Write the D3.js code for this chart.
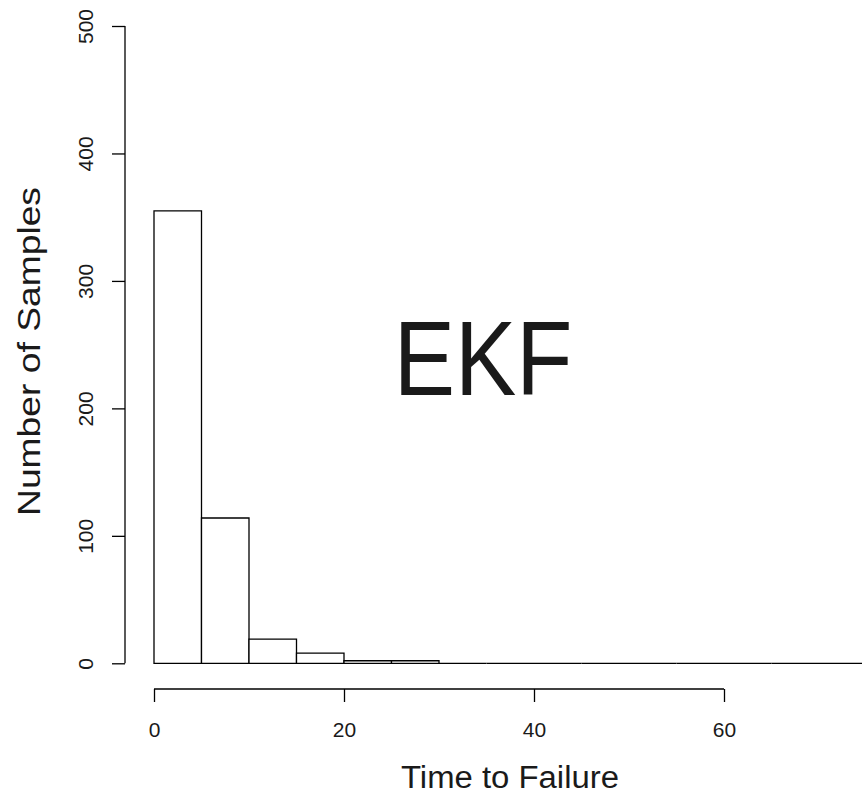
<!DOCTYPE html>
<html>
<head>
<meta charset="utf-8">
<script src="https://cdn.jsdelivr.net/npm/d3@7/dist/d3.min.js"></script>
<style>
  html, body { margin: 0; padding: 0; background: #fff; }
  svg { display: block; }
  text { font-family: "Liberation Sans", Arial, Helvetica, sans-serif; fill: #1a1a1a; }
</style>
</head>
<body>
<svg id="chart" width="862" height="798"></svg>
<script>
// Histogram of time to failure (bin width 5)
const binEdges = [0, 5, 10, 15, 20, 25, 30, 35, 40, 45, 50, 55, 60, 65, 70, 75, 80];
const binCounts = [355, 114, 19, 8, 2, 2, 0, 0, 0, 0, 0, 0, 0, 0, 0, 0];
const xTicks = [0, 20, 40, 60];
const yTicks = [0, 100, 200, 300, 400, 500];
const xTitle = "Time to Failure";
const yTitle = "Number of Samples";
const panelLabel = "EKF";

const svg = d3.select("#chart");

const x = d3.scaleLinear().domain([0, 60]).range([154, 724]);
const y = d3.scaleLinear().domain([0, 500]).range([663.3, 26]);

const bins = binCounts.map((c, i) => ({ x0: binEdges[i], x1: binEdges[i + 1], count: c }));

// bars drawn as closed outlines so empty bins still show along the baseline
svg.append("g")
  .selectAll("path")
  .data(bins)
  .join("path")
  .attr("d", d => `M${x(d.x0)},${y(0)}V${y(d.count)}H${x(d.x1)}V${y(0)}Z`)
  .attr("fill", "#fff")
  .attr("stroke", "#000")
  .attr("stroke-width", 1.3);

// y axis
const yAxis = svg.append("g")
  .attr("transform", "translate(125,0)")
  .call(d3.axisLeft(y).tickValues(yTicks).tickSize(13).tickSizeOuter(0).tickPadding(0));
yAxis.select(".domain").attr("stroke", "#000").attr("stroke-width", 1.3)
  .attr("d", `M0,${y(500)}V${y(0)}`);
yAxis.selectAll(".tick line").attr("stroke", "#000").attr("stroke-width", 1.3);
yAxis.selectAll(".tick text")
  .attr("x", null).attr("dy", null)
  .attr("transform", "translate(-32,0) rotate(-90)")
  .attr("text-anchor", "middle")
  .attr("font-family", "Liberation Sans, Arial, sans-serif")
  .attr("font-size", 21)
  .attr("fill", "#1a1a1a");

// x axis
const xAxis = svg.append("g")
  .attr("transform", "translate(0,689)")
  .call(d3.axisBottom(x).tickValues(xTicks).tickSize(13).tickSizeOuter(0).tickPadding(0));
xAxis.select(".domain").attr("stroke", "#000").attr("stroke-width", 1.3)
  .attr("d", `M${x(0)},0H${x(60)}`);
xAxis.selectAll(".tick line").attr("stroke", "#000").attr("stroke-width", 1.3);
xAxis.selectAll(".tick text")
  .attr("y", 48).attr("dy", null)
  .attr("text-anchor", "middle")
  .attr("font-family", "Liberation Sans, Arial, sans-serif")
  .attr("font-size", 21)
  .attr("fill", "#1a1a1a");

// axis titles
svg.append("text")
  .attr("x", 510).attr("y", 788)
  .attr("text-anchor", "middle")
  .attr("font-size", 31)
  .attr("textLength", 218)
  .attr("lengthAdjust", "spacingAndGlyphs")
  .text(xTitle);

svg.append("text")
  .attr("transform", "translate(40,351.5) rotate(-90)")
  .attr("text-anchor", "middle")
  .attr("font-size", 31)
  .attr("textLength", 329)
  .attr("lengthAdjust", "spacingAndGlyphs")
  .text(yTitle);

// panel label, slightly condensed
const label = svg.append("text")
  .attr("x", 483).attr("y", 395)
  .attr("text-anchor", "middle")
  .attr("font-family", "Lato, 'Liberation Sans', sans-serif")
  .attr("font-size", 105)
  .attr("fill", "#1c1c1c")
  .text(panelLabel);
const natural = label.node().getComputedTextLength();
label.attr("textLength", natural * 0.875).attr("lengthAdjust", "spacingAndGlyphs");
</script>
</body>
</html>
